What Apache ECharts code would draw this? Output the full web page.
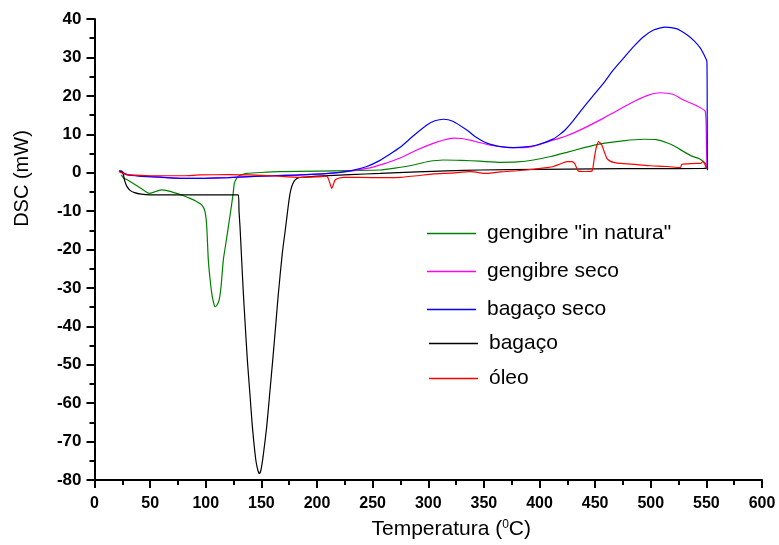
<!DOCTYPE html>
<html>
<head>
<meta charset="utf-8">
<script src="https://cdn.jsdelivr.net/npm/echarts@6/dist/echarts.min.js"></script>
<style>
  html, body { margin: 0; padding: 0; background: #ffffff; }
  #chart { width: 779px; height: 545px; }
</style>
</head>
<body>
<div id="chart"></div>
<script>
// DSC curves: temperature (°C) and heat flow (mW) for each sample
const seriesNames = ['gengibre "in natura"', 'gengibre seco', 'bagaço seco', 'bagaço', 'óleo'];
const seriesColors = ['#008000', '#ff00ff', '#0000ff', '#000000', '#ff0000'];

const naturaT = [24, 26.5, 29, 34.9, 42.4, 49.3, 55, 60.4, 67, 73.9, 80, 85.9, 91, 96.4, 99.4, 100.9, 102.3, 103.8, 105.4, 107, 108.4, 110, 112, 113.8, 115.8, 118, 120.3, 122, 123.4, 124.6, 125.7, 127.5, 129.3, 133, 136.9, 150, 166.8, 200, 230, 256.7, 270, 286.7, 300, 313.7, 330, 346.6, 364.7, 380, 394.6, 410, 424.6, 440, 454.6, 475, 493.5, 505, 514.6, 522, 529.5, 537, 544.5, 549, 550.5];
const naturaV = [-0.6, -1.5, -1.8, -2.8, -4.2, -5.4, -4.9, -4.5, -4.8, -5.4, -6.0, -6.7, -7.4, -8.4, -10.2, -14.1, -22.7, -27.5, -31.4, -33.8, -34.9, -34.5, -33.2, -29.5, -22.7, -18.5, -14.1, -10.8, -8.0, -5.5, -2.8, -1.6, -0.9, -0.5, -0.2, 0.05, 0.26, 0.4, 0.55, 0.7, 1.2, 2.0, 2.9, 3.3, 3.2, 3.0, 2.7, 2.8, 3.3, 4.2, 5.3, 6.5, 7.5, 8.3, 8.7, 8.6, 7.8, 6.8, 5.5, 4.3, 3.5, 2.4, 1.0];

const secoT = [22, 26, 30, 50, 83, 95, 120, 148.8, 184.8, 220.8, 244.8, 260, 274.7, 289.7, 305, 314, 322.7, 330, 338.6, 343.7, 358.6, 370, 376.6, 385, 395, 412.6, 424.6, 440, 457.6, 470, 487.6, 498, 508.5, 520, 529.5, 540, 549, 550, 550.5];
const secoV = [0.3, -0.2, -0.6, -1.0, -1.5, -1.5, -1.3, -0.9, -0.6, 0.1, 1.1, 2.3, 3.8, 5.9, 7.7, 8.5, 9.0, 8.9, 8.4, 8.0, 7.0, 6.6, 6.5, 6.5, 6.9, 8.5, 9.6, 11.6, 14.2, 16.2, 18.9, 20.2, 20.8, 20.4, 18.9, 17.6, 15.9, 9.0, 1.0];

const bagacoSecoT = [22, 24, 26, 30, 40, 60, 83, 95, 120, 148.8, 184.8, 220.8, 235, 244.8, 256.7, 265, 274.7, 286.7, 298.7, 306, 313.7, 322, 334.7, 342, 352.7, 365, 376.6, 387, 397.7, 412.6, 418, 423, 430, 436.6, 447, 457.6, 466, 475.5, 484.5, 493.5, 503, 513, 523, 532.5, 539, 544.6, 548, 550.5, 550.8, 551];
const bagacoSecoV = [0.4, 0.5, 0.0, -0.6, -0.9, -1.2, -1.5, -1.5, -1.3, -0.9, -0.6, 0.1, 0.8, 1.6, 3.2, 4.7, 6.6, 9.6, 12.4, 13.5, 13.9, 13.4, 11.1, 9.4, 7.7, 6.8, 6.5, 6.7, 7.2, 8.8, 9.9, 11.1, 13.4, 15.9, 19.6, 23.3, 26.6, 29.8, 32.8, 35.4, 37.2, 37.9, 37.5, 35.9, 34.3, 32.4, 30.6, 28.9, 10.0, 0.6];

const bagacoT = [22, 24.5, 26, 27, 29, 32, 36, 42, 50, 90, 129.3, 129.9, 130.8, 133.8, 137.4, 139.8, 141.9, 145, 146.8, 148.2, 149.6, 151.5, 154.8, 157.5, 160.2, 162.8, 165.3, 168.8, 171.9, 174, 175.8, 177.3, 179.5, 181.8, 185, 189.3, 200, 230, 256.7, 290, 316.7, 346.7, 400, 450, 500, 547.5, 550];
const bagacoV = [0.4, 0.2, -0.5, -2.0, -3.5, -4.6, -5.2, -5.6, -5.8, -5.8, -5.8, -10.0, -14.1, -31.4, -48.8, -58.0, -66.1, -74.8, -77.4, -78.3, -77.4, -74.0, -66.1, -57.5, -48.8, -40.0, -31.4, -21.0, -14.0, -9.0, -5.4, -3.6, -2.2, -1.5, -1.25, -1.15, -0.9, -0.5, -0.2, 0.2, 0.45, 0.7, 0.85, 1.0, 1.05, 1.1, 1.2];

const oleoT = [22, 26, 30, 50, 80, 95, 120, 139.8, 160, 184.8, 200, 208.8, 211, 213.3, 214.8, 216.3, 220, 223.8, 250, 274.7, 290, 304.7, 320, 338, 352.7, 365, 379.7, 395, 406.6, 412.6, 418, 424.6, 429.1, 431.5, 433.6, 435, 441, 447.1, 449.2, 451, 453, 456, 458.5, 460.6, 463.5, 466.6, 472.6, 487.6, 499.5, 515, 526.5, 528, 533, 541.5, 544.6, 547, 549, 550];
const oleoV = [0.3, -0.2, -0.5, -0.8, -0.8, -0.6, -0.5, -0.6, -0.8, -1.2, -1.1, -0.9, -2.2, -4.1, -3.0, -1.9, -1.4, -1.2, -1.3, -1.2, -0.8, -0.3, -0.1, 0.26, -0.2, 0.2, 0.5, 0.9, 1.3, 1.6, 2.2, 2.9, 2.9, 2.4, 1.1, 0.4, 0.3, 0.4, 3.7, 6.5, 8.1, 7.2, 5.2, 3.7, 3.0, 2.7, 2.4, 2.1, 1.8, 1.6, 1.3, 2.2, 2.3, 2.4, 2.4, 2.9, 2.0, 1.1];

const xTicks = { min: 0, max: 600, step: 50 };
const yTicks = { min: -80, max: 40, step: 10 };

// legend row positions (centre of each row, px)
const legendRows = [235, 273, 311, 345, 380];

function pairs(xs, ys) {
  return xs.map((x, i) => [x, ys[i]]);
}

const seriesData = [
  pairs(naturaT, naturaV),
  pairs(secoT, secoV),
  pairs(bagacoSecoT, bagacoSecoV),
  pairs(bagacoT, bagacoV),
  pairs(oleoT, oleoV)
];

const font = 'Arial, "Liberation Sans", Helvetica, sans-serif';

const chart = echarts.init(document.getElementById('chart'), null, { renderer: 'canvas' });

// one legend block per row so each row sits at its own height
const legends = seriesNames.map((name, i) => ({
  data: [name],
  orient: 'vertical',
  left: i < 3 ? 427 : 429,
  top: legendRows[i] - 12,
  padding: 0,
  icon: 'rect',
  itemWidth: 49,
  itemHeight: 1.4,
  selectedMode: false,
  textStyle: {
    fontFamily: font,
    fontSize: 21,
    color: '#000',
    padding: [0, 0, 0, 6]
  }
}));

const option = {
  backgroundColor: '#ffffff',
  animation: false,
  legend: legends,
  grid: { left: 94.5, right: 17, top: 19, bottom: 65, containLabel: false },
  xAxis: {
    type: 'value',
    min: xTicks.min,
    max: xTicks.max,
    interval: xTicks.step,
    name: '{t|Temperatura (}{s|0}{t|C)}',
    nameLocation: 'middle',
    nameGap: 39,
    nameTextStyle: {
      padding: [0, 0, 0, 46],
      rich: {
        t: { fontFamily: font, fontSize: 21, color: '#000' },
        s: { fontFamily: font, fontSize: 12, color: '#000', verticalAlign: 'top', padding: [0, 0, 9, 0] }
      }
    },
    axisLine: { show: true, onZero: false, lineStyle: { color: '#000', width: 2 } },
    axisTick: { show: true, inside: false, length: 8, lineStyle: { color: '#000', width: 2 } },
    minorTick: { show: true, splitNumber: 2, length: 5, lineStyle: { color: '#000', width: 2 } },
    axisLabel: { fontFamily: font, fontSize: 16, fontWeight: 'bold', color: '#000', margin: 16 },
    splitLine: { show: false }
  },
  yAxis: {
    type: 'value',
    min: yTicks.min,
    max: yTicks.max,
    interval: yTicks.step,
    name: 'DSC (mW)',
    nameLocation: 'middle',
    nameGap: 62,
    nameTextStyle: {
      fontFamily: font,
      fontSize: 20,
      color: '#000',
      padding: [0, 0, 0, 142]
    },
    axisLine: { show: true, onZero: false, lineStyle: { color: '#000', width: 2 } },
    axisTick: { show: true, inside: false, length: 8, lineStyle: { color: '#000', width: 2 } },
    minorTick: { show: true, splitNumber: 2, length: 5, lineStyle: { color: '#000', width: 2 } },
    axisLabel: { fontFamily: font, fontSize: 17, fontWeight: 'bold', color: '#000', margin: 13 },
    splitLine: { show: false }
  },
  series: seriesNames.map((name, i) => ({
    name: name,
    type: 'line',
    data: seriesData[i],
    symbol: 'none',
    smooth: 0.2,
    lineStyle: { color: seriesColors[i], width: 1.2 },
    itemStyle: { color: seriesColors[i] },
    emphasis: { disabled: true }
  }))
};

chart.setOption(option);
</script>
</body>
</html>
